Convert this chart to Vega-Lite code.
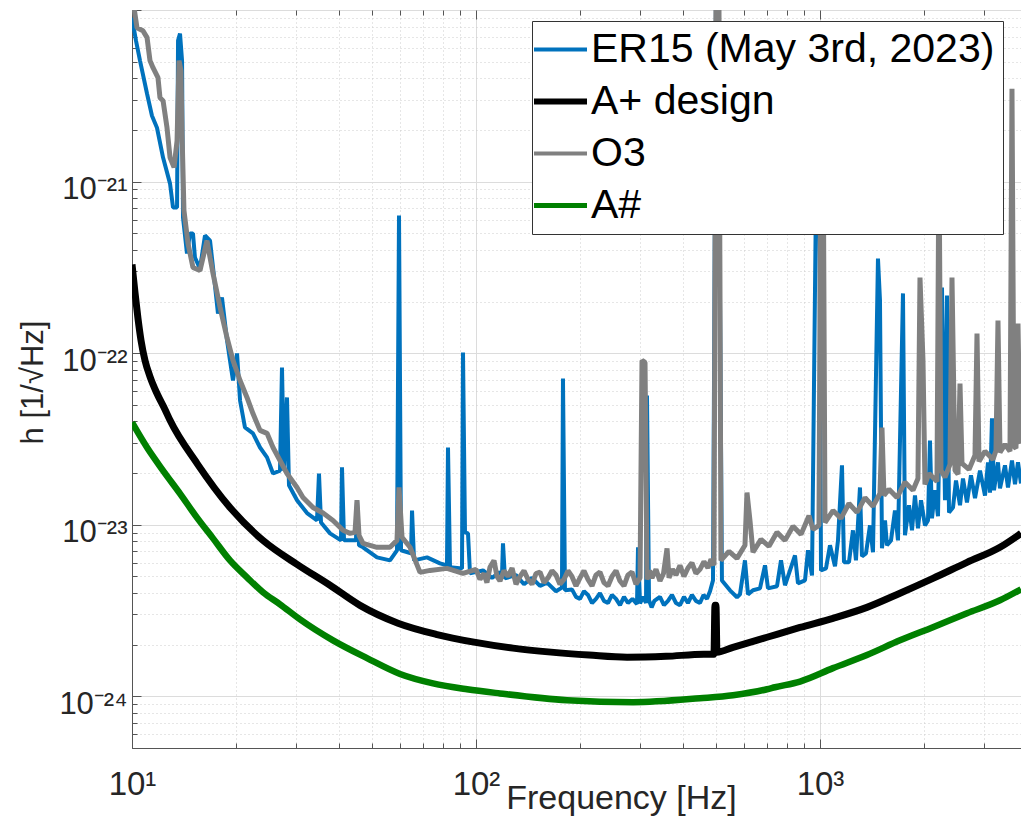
{
  "$schema": "https://vega.github.io/schema/vega-lite/v6.json",
  "autosize": {"type": "none"},
  "padding": {"left": 132, "top": 10, "right": 0, "bottom": 69},
  "width": 889,
  "height": 738,
  "background": "white",
  "config": {"view": {"stroke": null}, "font": "Liberation Sans"},
  "datasets": {
    "er15": [
      {"f":10.00,"h":9.02e-21},{"f":10.27,"h":6.63e-21},{"f":10.55,"h":5.07e-21},{"f":11.06,"h":3.25e-21},{"f":11.43,"h":2.42e-21},{"f":11.82,"h":2.06e-21},{"f":12.31,"h":1.38e-21},{"f":12.90,"h":9.73e-22},{"f":13.16,"h":7.06e-22},{"f":13.52,"h":7.06e-22},{"f":13.61,"h":6.63e-21},{"f":13.79,"h":7.28e-21},{"f":13.98,"h":5.07e-21},{"f":14.07,"h":6.17e-22},{"f":14.45,"h":3.81e-22},{"f":14.74,"h":4.98e-22},{"f":15.04,"h":4.98e-22},{"f":15.24,"h":3.61e-22},{"f":15.76,"h":3.11e-22},{"f":16.30,"h":4.85e-22},{"f":16.86,"h":4.53e-22},{"f":17.20,"h":3.16e-22},{"f":17.78,"h":1.70e-22},{"f":18.26,"h":2.11e-22},{"f":18.89,"h":1.19e-22},{"f":19.27,"h":9.07e-23},{"f":19.66,"h":6.93e-23},{"f":20.20,"h":9.96e-23},{"f":20.61,"h":5.30e-23},{"f":21.30,"h":3.69e-23},{"f":22.47,"h":3.41e-23},{"f":23.56,"h":2.82e-23},{"f":24.69,"h":2.47e-23},{"f":25.70,"h":1.99e-23},{"f":26.93,"h":2.07e-23},{"f":27.29,"h":8.25e-23},{"f":27.66,"h":2.07e-23},{"f":28.22,"h":5.52e-23},{"f":28.60,"h":1.70e-23},{"f":30.18,"h":1.39e-23},{"f":32.27,"h":1.17e-23},{"f":34.50,"h":1.06e-23},{"f":34.96,"h":1.99e-23},{"f":35.44,"h":1.03e-23},{"f":37.64,"h":8.91e-24},{"f":40.51,"h":8.11e-24},{"f":40.78,"h":2.16e-23},{"f":41.34,"h":8.11e-24},{"f":43.03,"h":8.11e-24},{"f":44.79,"h":8.11e-24},{"f":45.09,"h":1.39e-23},{"f":45.70,"h":7.59e-24},{"f":46.94,"h":7.39e-24},{"f":51.55,"h":6.46e-24},{"f":56.23,"h":6.20e-24},{"f":58.93,"h":7.10e-24},{"f":59.73,"h":6.34e-22},{"f":60.54,"h":7.10e-24},{"f":64.73,"h":6.82e-24},{"f":65.17,"h":1.21e-23},{"f":66.05,"h":6.20e-24},{"f":72.05,"h":6.46e-24},{"f":78.58,"h":5.96e-24},{"f":82.35,"h":5.80e-24},{"f":82.91,"h":2.82e-23},{"f":84.03,"h":5.65e-24},{"f":91.06,"h":5.57e-24},{"f":91.67,"h":1.01e-22},{"f":92.90,"h":9.03e-24},{"f":94.79,"h":8.91e-24},{"f":96.06,"h":5.21e-24},{"f":104.8,"h":5.42e-24},{"f":111.3,"h":4.9e-24},{"f":117.4,"h":5.3e-24},{"f":119.0,"h":5.07e-24},{"f":119.8,"h":7.79e-24},{"f":121.4,"h":4.87e-24},{"f":130.7,"h":5.1e-24},{"f":137.9,"h":4.5e-24},{"f":145.5,"h":4.9e-24},{"f":153.5,"h":4.4e-24},{"f":160.9,"h":4.6e-24},{"f":170.8,"h":4.1e-24},{"f":177.8,"h":4.3e-24},{"f":179.0,"h":7.12e-23},{"f":181.4,"h":4.15e-24},{"f":190.1,"h":4.2e-24},{"f":195.3,"h":3.8e-24},{"f":200.6,"h":3.7e-24},{"f":206.0,"h":4.1e-24},{"f":211.6,"h":3.9e-24},{"f":217.4,"h":3.5e-24},{"f":223.3,"h":3.7e-24},{"f":229.3,"h":4.0e-24},{"f":235.5,"h":3.6e-24},{"f":241.9,"h":3.5e-24},{"f":248.5,"h":3.9e-24},{"f":255.3,"h":3.7e-24},{"f":262.2,"h":3.4e-24},{"f":269.3,"h":3.8e-24},{"f":276.6,"h":3.5e-24},{"f":285.0,"h":3.7e-24},{"f":293.8,"h":3.45e-24},{"f":295.8,"h":7.39e-24},{"f":299.8,"h":3.48e-24},{"f":306.0,"h":3.8e-24},{"f":312.1,"h":3.5e-24},{"f":314.1,"h":5.67e-23},{"f":318.4,"h":3.63e-24},{"f":324.0,"h":3.3e-24},{"f":330.0,"h":3.6e-24},{"f":342.6,"h":3.8e-24},{"f":351.9,"h":3.4e-24},{"f":361.5,"h":3.6e-24},{"f":371.3,"h":3.9e-24},{"f":381.4,"h":3.5e-24},{"f":391.7,"h":3.4e-24},{"f":402.3,"h":3.8e-24},{"f":413.2,"h":3.5e-24},{"f":424.4,"h":3.9e-24},{"f":435.9,"h":3.6e-24},{"f":447.8,"h":3.5e-24},{"f":458.5,"h":3.9e-24},{"f":469.4,"h":3.7e-24},{"f":479.0,"h":4.1e-24},{"f":488.6,"h":4.74e-24},{"f":498.4,"h":1.13e-20},{"f":505.1,"h":1.13e-20},{"f":518.8,"h":4.74e-24},{"f":547.4,"h":4.15e-24},{"f":573.7,"h":3.78e-24},{"f":585.3,"h":3.93e-24},{"f":605.2,"h":6.20e-24},{"f":617.5,"h":3.93e-24},{"f":638.5,"h":4.15e-24},{"f":669.2,"h":4.26e-24},{"f":692.0,"h":5.80e-24},{"f":706.0,"h":4.26e-24},{"f":749.9,"h":4.38e-24},{"f":770.3,"h":6.20e-24},{"f":791.2,"h":4.44e-24},{"f":845.9,"h":6.63e-24},{"f":863.0,"h":4.56e-24},{"f":904.5,"h":4.74e-24},{"f":922.9,"h":7.10e-24},{"f":947.9,"h":5.07e-24},{"f":980.1,"h":2.96e-21},{"f":993.3,"h":2.96e-21},{"f":1006.7,"h":5.42e-24},{"f":1041.0,"h":5.57e-24},{"f":1069.2,"h":7.59e-24},{"f":1105.6,"h":5.72e-24},{"f":1128.0,"h":8.11e-24},{"f":1158.6,"h":2.22e-23},{"f":1174.2,"h":6.04e-24},{"f":1214.1,"h":6.04e-24},{"f":1246.9,"h":9.28e-24},{"f":1272.3,"h":6.20e-24},{"f":1306.8,"h":1.65e-23},{"f":1324.4,"h":6.55e-24},{"f":1360.7,"h":6.82e-24},{"f":1397.4,"h":9.92e-24},{"f":1425.7,"h":6.91e-24},{"f":1474.2,"h":3.56e-22},{"f":1494.1,"h":2.03e-22},{"f":1514.2,"h":7.29e-24},{"f":1545.2,"h":1.06e-23},{"f":1565.7,"h":7.59e-24},{"f":1608.5,"h":8.11e-24},{"f":1651.9,"h":1.21e-23},{"f":1685.4,"h":8.11e-24},{"f":1742.8,"h":2.23e-22},{"f":1766.2,"h":8.68e-24},{"f":1814.6,"h":1.30e-23},{"f":1851.0,"h":9.28e-24},{"f":1888.5,"h":1.48e-23},{"f":1926.8,"h":9.53e-24},{"f":1966.4,"h":1.39e-23},{"f":2019.3,"h":9.92e-24},{"f":2060.3,"h":1.06e-23},{"f":2088.0,"h":3.10e-23},{"f":2116.2,"h":1.09e-23},{"f":2159.2,"h":1.59e-23},{"f":2203.0,"h":1.12e-23},{"f":2262.7,"h":2.41e-22},{"f":2308.6,"h":1.39e-23},{"f":2339.7,"h":2.17e-22},{"f":2371.4,"h":1.18e-23},{"f":2435.8,"h":1.26e-23},{"f":2485.1,"h":1.81e-23},{"f":2552.7,"h":1.30e-23},{"f":2604.2,"h":1.86e-23},{"f":2674.9,"h":1.35e-23},{"f":2747.6,"h":1.94e-23},{"f":2822.3,"h":1.43e-23},{"f":2918.4,"h":2.07e-23},{"f":3017.7,"h":1.48e-23},{"f":3078.8,"h":2.31e-23},{"f":3120.4,"h":1.54e-23},{"f":3162.3,"h":4.17e-23},{"f":3204.9,"h":1.59e-23},{"f":3291.8,"h":2.31e-23},{"f":3336.2,"h":1.63e-23},{"f":3449.7,"h":2.22e-23},{"f":3519.8,"h":1.65e-23},{"f":3615.2,"h":2.37e-23},{"f":3688.5,"h":1.72e-23},{"f":3763.3,"h":2.31e-23},{"f":3839.6,"h":1.74e-23}
    ],
    "aplus": [
      {"f":10,"h":3.29e-22},{"f":10.2,"h":2.26e-22},{"f":10.41,"h":1.59e-22},{"f":10.62,"h":1.19e-22},{"f":10.91,"h":9.07e-23},{"f":11.28,"h":7.31e-23},{"f":11.82,"h":5.82e-23},{"f":12.47,"h":4.70e-23},{"f":12.9,"h":4.06e-23},{"f":15.45,"h":2.28e-23},{"f":19.27,"h":1.26e-23},{"f":24.03,"h":8.11e-24},{"f":30.18,"h":5.88e-24},{"f":37.64,"h":4.44e-24},{"f":46.0,"h":3.39e-24},{"f":59.33,"h":2.67e-24},{"f":76.5,"h":2.30e-24},{"f":98.67,"h":2.07e-24},{"f":128.1,"h":1.91e-24},{"f":165.2,"h":1.81e-24},{"f":213.1,"h":1.74e-24},{"f":274.8,"h":1.69e-24},{"f":356.7,"h":1.71e-24},{"f":460,"h":1.76e-24},{"f":491.8,"h":1.76e-24},{"f":495.1,"h":3.39e-24},{"f":498.4,"h":3.39e-24},{"f":501.7,"h":1.81e-24},{"f":558.6,"h":1.93e-24},{"f":701.5,"h":2.21e-24},{"f":874.8,"h":2.52e-24},{"f":1091,"h":2.85e-24},{"f":1369,"h":3.30e-24},{"f":1708,"h":3.99e-24},{"f":2130,"h":4.87e-24},{"f":2675,"h":6.04e-24},{"f":3336,"h":7.39e-24},{"f":3840,"h":8.91e-24}
    ],
    "o3": [
      {"f":10.07,"h":1.13e-20},{"f":10.34,"h":7.88e-21},{"f":10.76,"h":7.57e-21},{"f":11.06,"h":6.90e-21},{"f":11.28,"h":5.07e-21},{"f":11.51,"h":4.61e-21},{"f":11.90,"h":4.03e-21},{"f":12.06,"h":3.08e-21},{"f":12.31,"h":2.96e-21},{"f":12.64,"h":2.06e-21},{"f":12.90,"h":1.38e-21},{"f":13.25,"h":1.21e-21},{"f":13.52,"h":1.73e-21},{"f":13.70,"h":5.07e-21},{"f":13.88,"h":4.43e-21},{"f":13.98,"h":1.90e-21},{"f":14.16,"h":6.78e-22},{"f":14.55,"h":4.35e-22},{"f":15.04,"h":3.16e-22},{"f":15.76,"h":3.03e-22},{"f":16.52,"h":4.53e-22},{"f":16.86,"h":3.61e-22},{"f":17.20,"h":2.91e-22},{"f":18.03,"h":1.85e-22},{"f":18.89,"h":1.23e-22},{"f":19.66,"h":9.07e-23},{"f":20.61,"h":6.93e-23},{"f":21.59,"h":5.52e-23},{"f":22.47,"h":4.45e-23},{"f":23.56,"h":3.55e-23},{"f":24.69,"h":3.41e-23},{"f":25.70,"h":2.82e-23},{"f":26.93,"h":2.37e-23},{"f":28.22,"h":1.99e-23},{"f":30.18,"h":1.65e-23},{"f":31.41,"h":1.44e-23},{"f":33.59,"h":1.26e-23},{"f":35.92,"h":1.17e-23},{"f":38.40,"h":1.06e-23},{"f":41.06,"h":9.28e-24},{"f":43.03,"h":8.91e-24},{"f":44.49,"h":9.03e-24},{"f":45.09,"h":1.39e-23},{"f":45.70,"h":8.68e-24},{"f":46.94,"h":7.79e-24},{"f":51.55,"h":7.39e-24},{"f":56.23,"h":7.39e-24},{"f":58.93,"h":8.11e-24},{"f":59.73,"h":1.65e-23},{"f":60.95,"h":8.45e-24},{"f":64.30,"h":7.39e-24},{"f":68.75,"h":5.28e-24},{"f":73.51,"h":5.42e-24},{"f":82.35,"h":5.57e-24},{"f":91.67,"h":5.21e-24},{"f":100,"h":5.5e-24},{"f":102.7,"h":4.8e-24},{"f":105.5,"h":5.2e-24},{"f":107.6,"h":4.6e-24},{"f":109.8,"h":5.65e-24},{"f":112.8,"h":6.2e-24},{"f":115.1,"h":5.0e-24},{"f":117.4,"h":4.7e-24},{"f":120.6,"h":5.4e-24},{"f":123.9,"h":5.0e-24},{"f":127.3,"h":5.6e-24},{"f":130.7,"h":4.5e-24},{"f":134.3,"h":5.0e-24},{"f":137.9,"h":5.4e-24},{"f":141.7,"h":4.8e-24},{"f":145.5,"h":4.5e-24},{"f":149.4,"h":5.2e-24},{"f":153.5,"h":5.3e-24},{"f":157.6,"h":4.6e-24},{"f":161.9,"h":4.9e-24},{"f":166.3,"h":5.4e-24},{"f":170.8,"h":5.1e-24},{"f":175.4,"h":4.5e-24},{"f":180.2,"h":4.8e-24},{"f":185.1,"h":5.4e-24},{"f":190.1,"h":5.0e-24},{"f":195.3,"h":4.4e-24},{"f":200.6,"h":4.9e-24},{"f":206.0,"h":5.4e-24},{"f":211.6,"h":4.8e-24},{"f":217.4,"h":4.4e-24},{"f":223.3,"h":5.1e-24},{"f":229.3,"h":5.3e-24},{"f":235.5,"h":4.6e-24},{"f":241.9,"h":4.4e-24},{"f":248.5,"h":5.0e-24},{"f":255.3,"h":5.4e-24},{"f":262.2,"h":4.7e-24},{"f":269.3,"h":4.4e-24},{"f":276.6,"h":5.1e-24},{"f":284.1,"h":5.3e-24},{"f":291.8,"h":4.5e-24},{"f":299.8,"h":4.9e-24},{"f":303.8,"h":9.07e-23},{"f":310.0,"h":8.83e-23},{"f":314.1,"h":4.8e-24},{"f":319.4,"h":5.4e-24},{"f":324.8,"h":4.9e-24},{"f":333.6,"h":5.5e-24},{"f":342.6,"h":4.7e-24},{"f":350.8,"h":5.2e-24},{"f":359.2,"h":7.29e-24},{"f":364.0,"h":4.9e-24},{"f":372.6,"h":5.5e-24},{"f":381.4,"h":5.1e-24},{"f":391.7,"h":5.8e-24},{"f":402.3,"h":5.0e-24},{"f":413.2,"h":5.6e-24},{"f":424.4,"h":6.0e-24},{"f":435.9,"h":5.2e-24},{"f":447.8,"h":5.5e-24},{"f":459.9,"h":6.1e-24},{"f":472.4,"h":5.6e-24},{"f":482.0,"h":6.3e-24},{"f":491.8,"h":5.8e-24},{"f":498.4,"h":1.13e-20},{"f":508.5,"h":1.13e-20},{"f":515.3,"h":6.20e-24},{"f":543.8,"h":7.00e-24},{"f":573.7,"h":6.37e-24},{"f":605.2,"h":7.59e-24},{"f":613.4,"h":1.54e-23},{"f":625.8,"h":1.06e-23},{"f":638.5,"h":6.91e-24},{"f":673.7,"h":8.22e-24},{"f":710.7,"h":7.49e-24},{"f":749.9,"h":9.03e-24},{"f":791.2,"h":8.11e-24},{"f":834.8,"h":9.79e-24},{"f":880.7,"h":8.79e-24},{"f":929.0,"h":1.13e-23},{"f":954.2,"h":9.40e-24},{"f":993.3,"h":9.92e-24},{"f":1006.7,"h":2.96e-21},{"f":1020.3,"h":2.96e-21},{"f":1034.0,"h":1.03e-23},{"f":1090.9,"h":1.21e-23},{"f":1150.8,"h":1.09e-23},{"f":1214.1,"h":1.33e-23},{"f":1280.9,"h":1.18e-23},{"f":1351.4,"h":1.44e-23},{"f":1425.7,"h":1.28e-23},{"f":1494.1,"h":1.52e-23},{"f":1514.2,"h":3.69e-23},{"f":1534.6,"h":1.48e-23},{"f":1586.7,"h":1.61e-23},{"f":1673.9,"h":1.44e-23},{"f":1766.2,"h":1.77e-23},{"f":1863.5,"h":1.59e-23},{"f":1926.8,"h":1.86e-23},{"f":1952.8,"h":2.76e-22},{"f":1992.5,"h":9.07e-23},{"f":2019.3,"h":1.72e-23},{"f":2074.0,"h":1.99e-23},{"f":2188.2,"h":1.79e-23},{"f":2217.7,"h":1.52e-21},{"f":2247.6,"h":2.07e-23},{"f":2308.6,"h":1.89e-23},{"f":2387.3,"h":2.25e-23},{"f":2419.5,"h":2.76e-22},{"f":2468.6,"h":2.07e-23},{"f":2518.7,"h":1.97e-23},{"f":2552.7,"h":6.66e-23},{"f":2587.0,"h":2.28e-23},{"f":2711.0,"h":2.10e-23},{"f":2822.3,"h":2.54e-23},{"f":2860.4,"h":1.30e-22},{"f":2898.9,"h":2.34e-23},{"f":3017.7,"h":2.68e-23},{"f":3183.5,"h":2.40e-23},{"f":3248.1,"h":2.71e-23},{"f":3291.8,"h":1.55e-22},{"f":3336.2,"h":2.64e-23},{"f":3449.7,"h":2.94e-23},{"f":3567.1,"h":2.68e-23},{"f":3615.2,"h":3.48e-21},{"f":3663.9,"h":2.86e-23},{"f":3713.1,"h":2.79e-23},{"f":3763.3,"h":1.49e-22},{"f":3814.0,"h":3.10e-23},{"f":3839.6,"h":2.98e-23}
    ],
    "asharp": [
      {"f":10,"h":3.95e-23},{"f":11.06,"h":2.82e-23},{"f":12.31,"h":2.07e-23},{"f":13.79,"h":1.52e-23},{"f":15.45,"h":1.10e-23},{"f":17.2,"h":8.33e-24},{"f":19.27,"h":6.2e-24},{"f":21.59,"h":4.94e-24},{"f":24.03,"h":4.04e-24},{"f":26.93,"h":3.44e-24},{"f":30.79,"h":2.81e-24},{"f":38.4,"h":2.12e-24},{"f":48.21,"h":1.67e-24},{"f":60.13,"h":1.35e-24},{"f":74.99,"h":1.19e-24},{"f":94.16,"h":1.10e-24},{"f":117.4,"h":1.04e-24},{"f":183.9,"h":9.49e-25},{"f":286.1,"h":9.24e-25},{"f":447.9,"h":9.75e-25},{"f":558.6,"h":1.015e-24},{"f":701.5,"h":1.10e-24},{"f":740,"h":1.13e-24},{"f":874.8,"h":1.22e-24},{"f":1091,"h":1.46e-24},{"f":1369,"h":1.74e-24},{"f":1708,"h":2.12e-24},{"f":2130,"h":2.53e-24},{"f":2675,"h":3.05e-24},{"f":3336,"h":3.63e-24},{"f":3840,"h":4.21e-24}
    ]
  },
  "encoding": {
    "y": {
      "field": "h", "type": "quantitative",
      "scale": {"type": "log", "domain": [5e-25, 1e-20], "nice": false},
      "axis": {
        "values": [5e-25,6e-25,7e-25,8e-25,9e-25,1e-24,2e-24,3e-24,4e-24,5e-24,6e-24,7e-24,8e-24,9e-24,1e-23,2e-23,3e-23,4e-23,5e-23,6e-23,7e-23,8e-23,9e-23,1e-22,2e-22,3e-22,4e-22,5e-22,6e-22,7e-22,8e-22,9e-22,1e-21,2e-21,3e-21,4e-21,5e-21,6e-21,7e-21,8e-21,9e-21,1e-20],
        "labelExpr": "abs(log(datum.value)/LN10 - round(log(datum.value)/LN10)) > 0.01 ? '' : round(log(datum.value)/LN10) == -21 ? '10⁻²¹' : round(log(datum.value)/LN10) == -22 ? '10⁻²²' : round(log(datum.value)/LN10) == -23 ? '10⁻²³' : round(log(datum.value)/LN10) == -24 ? '10⁻²⁴' : ''",
        "labelFont": "Liberation Sans", "labelFontSize": 31, "labelColor": "#262626",
        "labelPadding": 14, "labelOffset": 8, "labelFlush": false, "labelOverlap": false,
        "grid": true,
        "gridColor": {"condition": {"test": "abs(log(datum.value)/LN10 - round(log(datum.value)/LN10)) < 0.01", "value": "#dcdcdc"}, "value": "#cccccc"},
        "gridDash": {"condition": {"test": "abs(log(datum.value)/LN10 - round(log(datum.value)/LN10)) < 0.01", "value": []}, "value": [1, 3]},
        "tickColor": "#555555",
        "tickSize": {"condition": {"test": "abs(log(datum.value)/LN10 - round(log(datum.value)/LN10)) < 0.01", "value": -9}, "value": -5},
        "domainColor": "#555555",
        "title": "h [1/√Hz]", "titleFont": "Liberation Sans", "titleFontSize": 31, "titleFontWeight": "normal", "titleColor": "#262626",
        "titleX": -99, "titleY": 372, "titleAngle": -90, "titleAlign": "center", "titleBaseline": "middle"
      }
    }
  },
  "layer": [
    {
      "encoding": {
        "x": {
          "field": "f", "type": "quantitative",
          "scale": {"type": "log", "domain": [10, 3840], "nice": false},
          "axis": {
            "values": [10,20,30,40,50,60,70,80,90,100,200,300,400,500,600,700,800,900,1000,2000,3000],
            "labelExpr": "datum.value == 10 ? '10¹' : datum.value == 100 ? '10²' : datum.value == 1000 ? '10³' : ''",
            "labelFont": "Liberation Sans", "labelFontSize": 33, "labelColor": "#262626",
            "labelPadding": 29, "labelFlush": false, "labelOverlap": false,
            "grid": true,
            "gridColor": {"condition": {"test": "datum.value == 10 || datum.value == 100 || datum.value == 1000", "value": "#dcdcdc"}, "value": "#cccccc"},
            "gridDash": {"condition": {"test": "datum.value == 10 || datum.value == 100 || datum.value == 1000", "value": []}, "value": [1, 3]},
            "tickColor": "#555555",
            "tickSize": {"condition": {"test": "datum.value == 10 || datum.value == 100 || datum.value == 1000", "value": -9}, "value": -5},
            "domainColor": "#555555",
            "title": "Frequency [Hz]", "titleFont": "Liberation Sans", "titleFontSize": 34, "titleFontWeight": "normal", "titleColor": "#262626",
            "titleX": 489, "titleY": 60, "titleBaseline": "alphabetic", "titleAlign": "center"
          }
        }
      },
      "layer": [
        {"data": {"name": "er15"}, "mark": {"type": "line", "strokeWidth": 4, "clip": true, "strokeJoin": "bevel"},
         "encoding": {"color": {"datum": "ER15 (May 3rd, 2023)", "type": "nominal",
           "scale": {"domain": ["ER15 (May 3rd, 2023)", "A+ design", "O3", "A#"], "range": ["#0072BD", "#000000", "#808080", "#008000"]},
           "legend": {
            "orient": "none", "legendX": 400, "legendY": 11, "title": null,
            "symbolType": "stroke", "symbolSize": 2809, "symbolStrokeWidth": 4,
            "labelFont": "Liberation Sans", "labelFontSize": 41, "labelColor": "#000000", "labelLimit": 0,
            "padding": 8, "rowPadding": 10, "labelOffset": 10,
            "strokeColor": "#333333", "fillColor": "#ffffff",
            "encode": {"symbols": {"update": {"strokeWidth": {"signal": "datum.value == 'A+ design' ? 6 : datum.value == 'A#' ? 5 : 4"}}}}
           }}}},
        {"data": {"name": "aplus"}, "mark": {"type": "line", "strokeWidth": 7, "clip": true, "interpolate": "monotone"},
         "encoding": {"color": {"datum": "A+ design", "type": "nominal"}}},
        {"data": {"name": "o3"}, "mark": {"type": "line", "strokeWidth": 5, "clip": true, "strokeJoin": "bevel"},
         "encoding": {"color": {"datum": "O3", "type": "nominal"}}},
        {"data": {"name": "asharp"}, "mark": {"type": "line", "strokeWidth": 6.5, "clip": true, "interpolate": "monotone"},
         "encoding": {"color": {"datum": "A#", "type": "nominal"}}}
      ]
    },
    {
      "data": {"name": "aplus"},
      "mark": {"type": "line", "opacity": 0, "clip": true},
      "encoding": {
        "x": {
          "field": "f", "type": "quantitative",
          "scale": {"type": "log", "domain": [10, 3840], "nice": false},
          "axis": {
            "orient": "top",
            "values": [10,20,30,40,50,60,70,80,90,100,200,300,400,500,600,700,800,900,1000,2000,3000],
            "labels": false, "grid": false, "domain": false, "title": null,
            "tickColor": "#555555",
            "tickSize": {"condition": {"test": "datum.value == 10 || datum.value == 100 || datum.value == 1000", "value": -9}, "value": -5}
          }
        }
      }
    }
  ],
  "resolve": {"axis": {"x": "independent"}}
}
